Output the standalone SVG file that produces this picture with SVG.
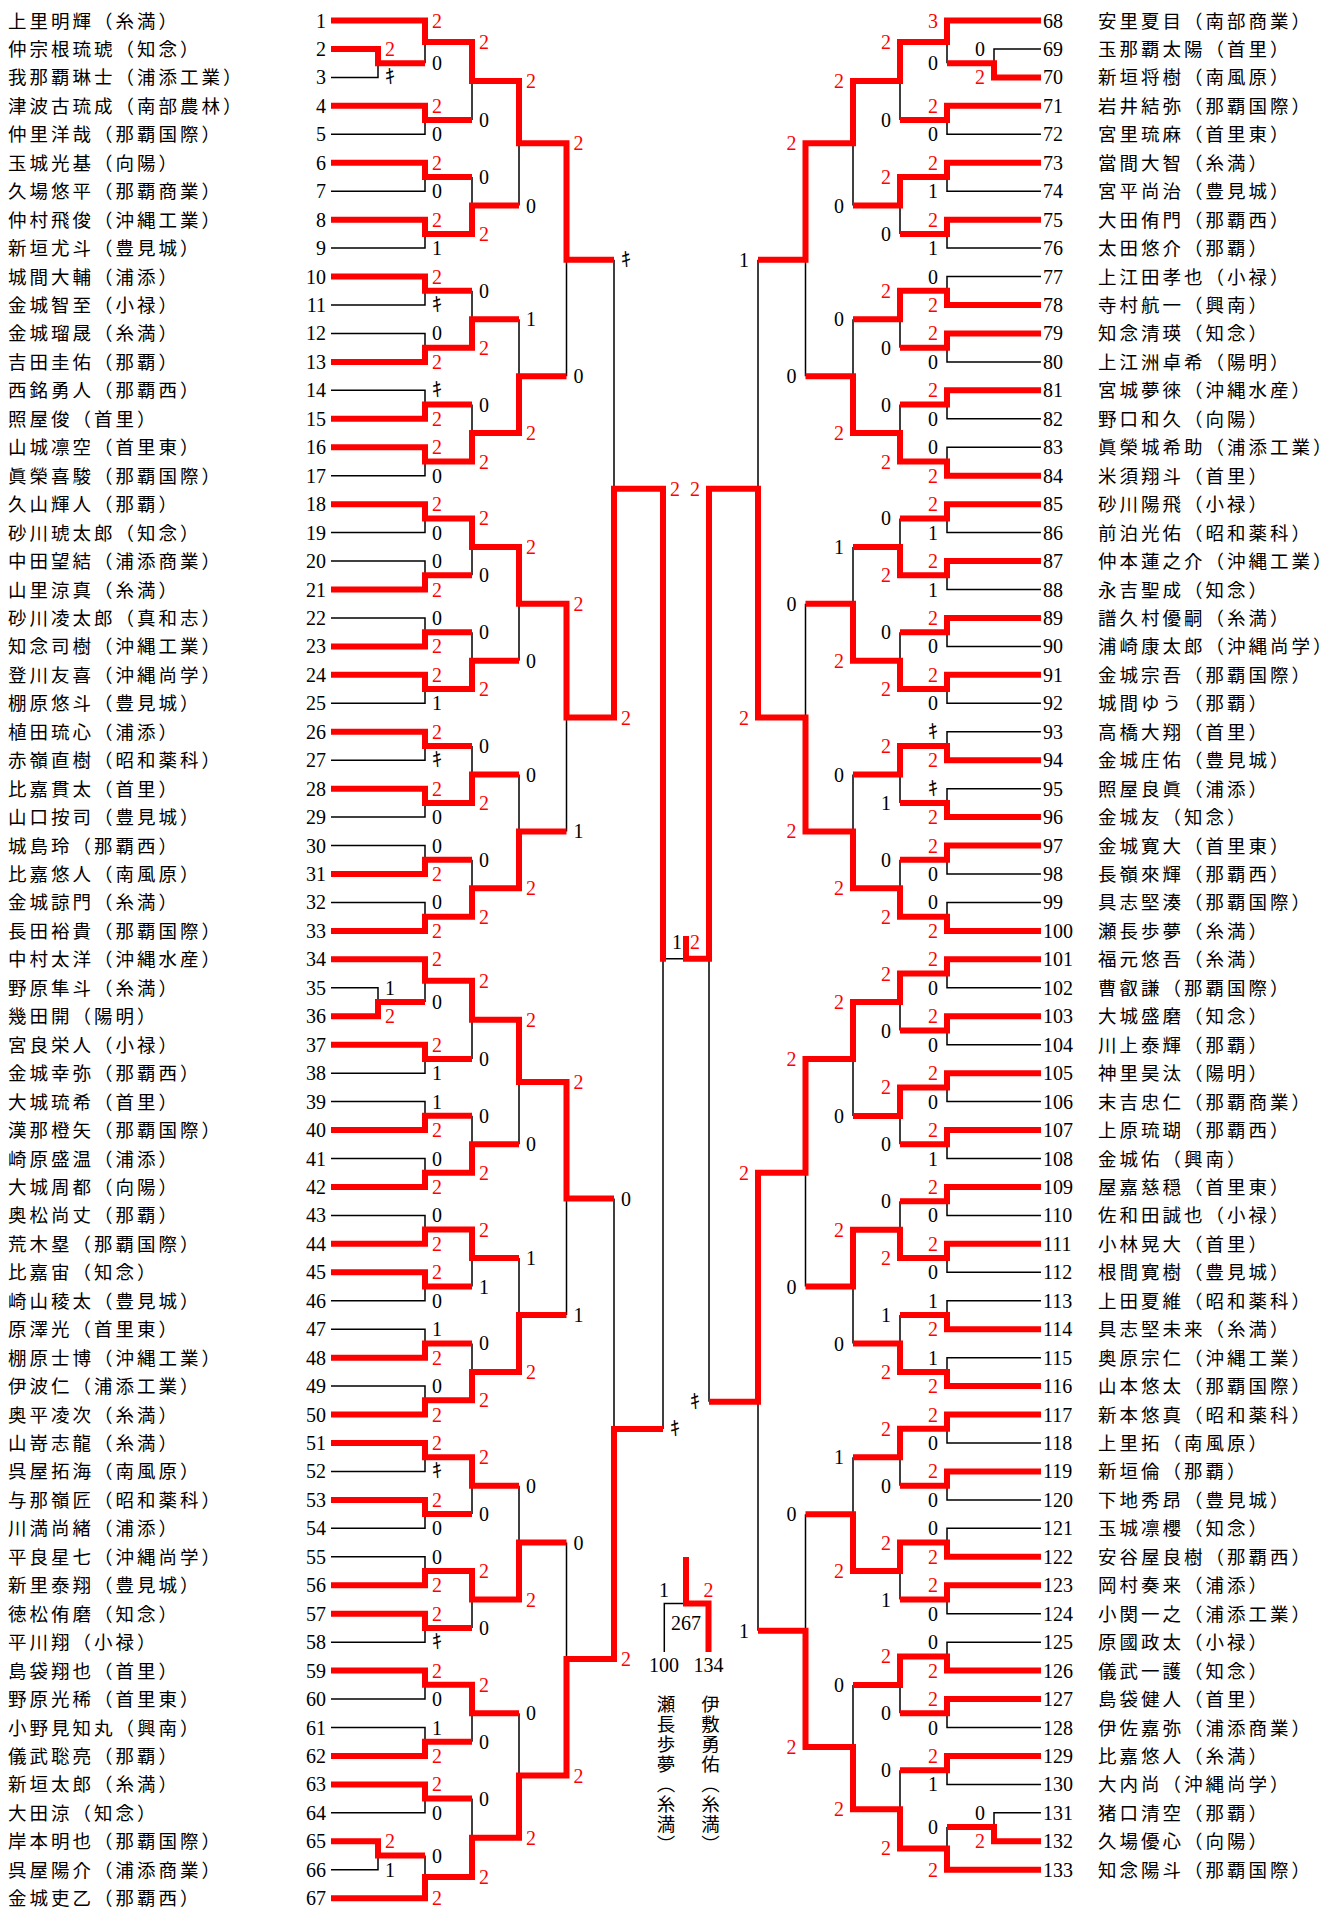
<svg xmlns="http://www.w3.org/2000/svg" width="1342" height="1907" viewBox="0 0 1342 1907">
<style>
.k{fill:none;stroke:#000;stroke-width:1.5}
.r{fill:none;stroke:#f00;stroke-width:6}
text{font-family:"Liberation Serif","Noto Sans CJK JP",serif;font-size:20px;fill:#000}
#left-players text:first-child,#right-players text:last-child{font-size:18.5px;letter-spacing:3px}
.e{text-anchor:end}
.m{text-anchor:middle}
.w{fill:#f00}
.v{writing-mode:vertical-rl;font-size:18.5px;letter-spacing:1.5px}
</style>
<rect width="1342" height="1907" fill="#fff"/>
<g id="connectors">
<path class="k" d="M331 77.4H378V63.2M331 987.8H378V1002M331 1869.75H378V1855.5
M425 63.2V41.9M331 134.3H425V120.1M331 191.2H425V177M331 248.1H425V233.9M331 305H425V290.8M331 333.45H425V347.7M331 390.35H425V404.6M331 475.7H425V461.5M331 532.6H425V518.4M331 561.05H425V575.3M331 617.95H425V632.2M331 703.3H425V689.1M331 760.2H425V746M331 817.1H425V802.9M331 845.55H425V859.8M331 902.45H425V916.7M425 1002V980.7M331 1073.15H425V1058.9M331 1101.6H425V1115.8M331 1158.5H425V1172.7M331 1215.4H425V1229.6M331 1300.75H425V1286.5M331 1329.2H425V1343.4M331 1386.1H425V1400.3M331 1471.45H425V1457.2M331 1528.35H425V1514.1M331 1556.8H425V1571M331 1642.15H425V1627.9M331 1699.05H425V1684.8M331 1727.5H425V1741.7M331 1812.85H425V1798.6M425 1855.5V1876.9
M472 120.1V81M472 177V205.5M472 290.8V319.3M472 404.6V433.1M472 575.3V546.9M472 632.2V660.7M472 746V774.5M472 859.8V888.3M472 1058.9V1019.8M472 1115.8V1144.3M472 1286.5V1258.1M472 1343.4V1371.9M472 1514.1V1485.7M472 1627.9V1599.5M472 1741.7V1713.3M472 1798.6V1837.8
M519 205.5V143.3M519 319.3V376.2M519 660.7V603.8M519 774.5V831.4M519 1144.3V1082.1M519 1258.1V1315M519 1485.7V1542.6M519 1713.3V1775.6
M566.5 376.2V259.8M566.5 831.4V717.6M566.5 1315V1198.6M566.5 1542.6V1659.1
M614 259.8V488.7M614 1198.6V1428.9M663 1428.9V958.8H686"/>
<path class="k" d="M1041 48.95H994V63.2M1041 1812.85H994V1827.1
M947 63.2V41.9M1041 134.3H947V120.1M1041 191.2H947V177M1041 248.1H947V233.9M1041 276.55H947V290.8M1041 361.9H947V347.7M1041 418.8H947V404.6M1041 447.25H947V461.5M1041 532.6H947V518.4M1041 589.5H947V575.3M1041 646.4H947V632.2M1041 703.3H947V689.1M1041 731.75H947V746M1041 788.65H947V802.9M1041 874H947V859.8M1041 902.45H947V916.7M1041 987.8H947V973.6M1041 1044.7H947V1030.5M1041 1101.6H947V1087.4M1041 1158.5H947V1144.3M1041 1215.4H947V1201.2M1041 1272.3H947V1258.1M1041 1300.75H947V1315M1041 1357.65H947V1371.9M1041 1443H947V1428.8M1041 1499.9H947V1485.7M1041 1528.35H947V1542.6M1041 1613.7H947V1599.5M1041 1642.15H947V1656.4M1041 1727.5H947V1713.3M1041 1784.4H947V1770.2M947 1827.1V1848.4
M900 120.1V81M900 233.9V205.5M900 347.7V319.3M900 404.6V433.1M900 518.4V546.9M900 632.2V660.7M900 802.9V774.5M900 859.8V888.3M900 1030.5V1002.1M900 1144.3V1115.9M900 1201.2V1229.7M900 1315V1343.5M900 1485.7V1457.3M900 1599.5V1571.1M900 1713.3V1684.9M900 1770.2V1809.3
M853 205.5V143.3M853 319.3V376.2M853 546.9V603.8M853 774.5V831.4M853 1115.9V1059M853 1343.5V1286.6M853 1457.3V1514.2M853 1684.9V1747.1
M805.5 376.2V259.8M805.5 603.8V717.6M805.5 1286.6V1172.8M805.5 1514.2V1630.7
M758 259.8V488.7M758 1630.7V1401.8M709 1401.8V958.8
M686 1603.5H664.3V1652"/>
<path class="r" d="M331 48.95H378V63.2H425M331 1016.25H378V1002H425M331 1841.3H378V1855.5H425
M331 20.5H425V41.9H472M331 105.85H425V120.1H472M331 162.75H425V177H472M331 219.65H425V233.9H472M331 276.55H425V290.8H472M331 361.9H425V347.7H472M331 418.8H425V404.6H472M331 447.25H425V461.5H472M331 504.15H425V518.4H472M331 589.5H425V575.3H472M331 646.4H425V632.2H472M331 674.85H425V689.1H472M331 731.75H425V746H472M331 788.65H425V802.9H472M331 874H425V859.8H472M331 930.9H425V916.7H472M331 959.35H425V980.7H472M331 1044.7H425V1058.9H472M331 1130.05H425V1115.8H472M331 1186.95H425V1172.7H472M331 1243.85H425V1229.6H472M331 1272.3H425V1286.5H472M331 1357.65H425V1343.4H472M331 1414.55H425V1400.3H472M331 1443H425V1457.2H472M331 1499.9H425V1514.1H472M331 1585.25H425V1571H472M331 1613.7H425V1627.9H472M331 1670.6H425V1684.8H472M331 1755.95H425V1741.7H472M331 1784.4H425V1798.6H472M331 1898.2H425V1876.9H472
M425 41.9H472V81H519M425 233.9H472V205.5H519M425 347.7H472V319.3H519M425 461.5H472V433.1H519M425 518.4H472V546.9H519M425 689.1H472V660.7H519M425 802.9H472V774.5H519M425 916.7H472V888.3H519M425 980.7H472V1019.8H519M425 1172.7H472V1144.3H519M425 1229.6H472V1258.1H519M425 1400.3H472V1371.9H519M425 1457.2H472V1485.7H519M425 1571H472V1599.5H519M425 1684.8H472V1713.3H519M425 1876.9H472V1837.8H519
M472 81H519V143.3H566.5M472 433.1H519V376.2H566.5M472 546.9H519V603.8H566.5M472 888.3H519V831.4H566.5M472 1019.8H519V1082.1H566.5M472 1371.9H519V1315H566.5M472 1599.5H519V1542.6H566.5M472 1837.8H519V1775.6H566.5
M519 143.3H566.5V259.8H614M519 603.8H566.5V717.6H614M519 1082.1H566.5V1198.6H614M519 1775.6H566.5V1659.1H614
M566.5 717.6H614V488.7H663M566.5 1659.1H614V1428.9H663M614 488.7H663V961.8"/>
<path class="r" d="M1041 77.4H994V63.2H947M1041 1841.3H994V1827.1H947
M1041 20.5H947V41.9H900M1041 105.85H947V120.1H900M1041 162.75H947V177H900M1041 219.65H947V233.9H900M1041 305H947V290.8H900M1041 333.45H947V347.7H900M1041 390.35H947V404.6H900M1041 475.7H947V461.5H900M1041 504.15H947V518.4H900M1041 561.05H947V575.3H900M1041 617.95H947V632.2H900M1041 674.85H947V689.1H900M1041 760.2H947V746H900M1041 817.1H947V802.9H900M1041 845.55H947V859.8H900M1041 930.9H947V916.7H900M1041 959.35H947V973.6H900M1041 1016.25H947V1030.5H900M1041 1073.15H947V1087.4H900M1041 1130.05H947V1144.3H900M1041 1186.95H947V1201.2H900M1041 1243.85H947V1258.1H900M1041 1329.2H947V1315H900M1041 1386.1H947V1371.9H900M1041 1414.55H947V1428.8H900M1041 1471.45H947V1485.7H900M1041 1556.8H947V1542.6H900M1041 1585.25H947V1599.5H900M1041 1670.6H947V1656.4H900M1041 1699.05H947V1713.3H900M1041 1755.95H947V1770.2H900M1041 1869.75H947V1848.4H900
M947 41.9H900V81H853M947 177H900V205.5H853M947 290.8H900V319.3H853M947 461.5H900V433.1H853M947 575.3H900V546.9H853M947 689.1H900V660.7H853M947 746H900V774.5H853M947 916.7H900V888.3H853M947 973.6H900V1002.1H853M947 1087.4H900V1115.9H853M947 1258.1H900V1229.7H853M947 1371.9H900V1343.5H853M947 1428.8H900V1457.3H853M947 1542.6H900V1571.1H853M947 1656.4H900V1684.9H853M947 1848.4H900V1809.3H853
M900 81H853V143.3H805.5M900 433.1H853V376.2H805.5M900 660.7H853V603.8H805.5M900 888.3H853V831.4H805.5M900 1002.1H853V1059H805.5M900 1229.7H853V1286.6H805.5M900 1571.1H853V1514.2H805.5M900 1809.3H853V1747.1H805.5
M853 143.3H805.5V259.8H758M853 831.4H805.5V717.6H758M853 1059H805.5V1172.8H758M853 1747.1H805.5V1630.7H758
M805.5 717.6H758V488.7H709M805.5 1172.8H758V1401.8H709M758 488.7H709V958.8H686V936
M686 1557V1603.5H708.5V1652"/>
</g>
<g id="scores">
<text x="385" y="55.95" class="w">2</text><text x="385" y="84.4">ｷ</text><text x="385" y="994.8">1</text><text x="385" y="1023.25" class="w">2</text><text x="385" y="1848.3" class="w">2</text><text x="385" y="1876.75">1</text>
<text x="432" y="27.5" class="w">2</text><text x="432" y="70.2">0</text>
<text x="432" y="112.85" class="w">2</text><text x="432" y="141.3">0</text>
<text x="432" y="169.75" class="w">2</text><text x="432" y="198.2">0</text>
<text x="432" y="226.65" class="w">2</text><text x="432" y="255.1">1</text>
<text x="432" y="283.55" class="w">2</text><text x="432" y="312">ｷ</text>
<text x="432" y="340.45">0</text><text x="432" y="368.9" class="w">2</text>
<text x="432" y="397.35">ｷ</text><text x="432" y="425.8" class="w">2</text>
<text x="432" y="454.25" class="w">2</text><text x="432" y="482.7">0</text>
<text x="432" y="511.15" class="w">2</text><text x="432" y="539.6">0</text>
<text x="432" y="568.05">0</text><text x="432" y="596.5" class="w">2</text>
<text x="432" y="624.95">0</text><text x="432" y="653.4" class="w">2</text>
<text x="432" y="681.85" class="w">2</text><text x="432" y="710.3">1</text>
<text x="432" y="738.75" class="w">2</text><text x="432" y="767.2">ｷ</text>
<text x="432" y="795.65" class="w">2</text><text x="432" y="824.1">0</text>
<text x="432" y="852.55">0</text><text x="432" y="881" class="w">2</text>
<text x="432" y="909.45">0</text><text x="432" y="937.9" class="w">2</text>
<text x="432" y="966.35" class="w">2</text><text x="432" y="1009">0</text>
<text x="432" y="1051.7" class="w">2</text><text x="432" y="1080.15">1</text>
<text x="432" y="1108.6">1</text><text x="432" y="1137.05" class="w">2</text>
<text x="432" y="1165.5">0</text><text x="432" y="1193.95" class="w">2</text>
<text x="432" y="1222.4">0</text><text x="432" y="1250.85" class="w">2</text>
<text x="432" y="1279.3" class="w">2</text><text x="432" y="1307.75">0</text>
<text x="432" y="1336.2">1</text><text x="432" y="1364.65" class="w">2</text>
<text x="432" y="1393.1">0</text><text x="432" y="1421.55" class="w">2</text>
<text x="432" y="1450" class="w">2</text><text x="432" y="1478.45">ｷ</text>
<text x="432" y="1506.9" class="w">2</text><text x="432" y="1535.35">0</text>
<text x="432" y="1563.8">0</text><text x="432" y="1592.25" class="w">2</text>
<text x="432" y="1620.7" class="w">2</text><text x="432" y="1649.15">ｷ</text>
<text x="432" y="1677.6" class="w">2</text><text x="432" y="1706.05">0</text>
<text x="432" y="1734.5">1</text><text x="432" y="1762.95" class="w">2</text>
<text x="432" y="1791.4" class="w">2</text><text x="432" y="1819.85">0</text>
<text x="432" y="1862.5">0</text><text x="432" y="1905.2" class="w">2</text>
<text x="479" y="48.9" class="w">2</text><text x="479" y="127.1">0</text>
<text x="479" y="184">0</text><text x="479" y="240.9" class="w">2</text>
<text x="479" y="297.8">0</text><text x="479" y="354.7" class="w">2</text>
<text x="479" y="411.6">0</text><text x="479" y="468.5" class="w">2</text>
<text x="479" y="525.4" class="w">2</text><text x="479" y="582.3">0</text>
<text x="479" y="639.2">0</text><text x="479" y="696.1" class="w">2</text>
<text x="479" y="753">0</text><text x="479" y="809.9" class="w">2</text>
<text x="479" y="866.8">0</text><text x="479" y="923.7" class="w">2</text>
<text x="479" y="987.7" class="w">2</text><text x="479" y="1065.9">0</text>
<text x="479" y="1122.8">0</text><text x="479" y="1179.7" class="w">2</text>
<text x="479" y="1236.6" class="w">2</text><text x="479" y="1293.5">1</text>
<text x="479" y="1350.4">0</text><text x="479" y="1407.3" class="w">2</text>
<text x="479" y="1464.2" class="w">2</text><text x="479" y="1521.1">0</text>
<text x="479" y="1578" class="w">2</text><text x="479" y="1634.9">0</text>
<text x="479" y="1691.8" class="w">2</text><text x="479" y="1748.7">0</text>
<text x="479" y="1805.6">0</text><text x="479" y="1883.9" class="w">2</text>
<text x="526" y="88" class="w">2</text><text x="526" y="212.5">0</text>
<text x="526" y="326.3">1</text><text x="526" y="440.1" class="w">2</text>
<text x="526" y="553.9" class="w">2</text><text x="526" y="667.7">0</text>
<text x="526" y="781.5">0</text><text x="526" y="895.3" class="w">2</text>
<text x="526" y="1026.8" class="w">2</text><text x="526" y="1151.3">0</text>
<text x="526" y="1265.1">1</text><text x="526" y="1378.9" class="w">2</text>
<text x="526" y="1492.7">0</text><text x="526" y="1606.5" class="w">2</text>
<text x="526" y="1720.3">0</text><text x="526" y="1844.8" class="w">2</text>
<text x="573.5" y="150.3" class="w">2</text><text x="573.5" y="383.2">0</text>
<text x="573.5" y="610.8" class="w">2</text><text x="573.5" y="838.4">1</text>
<text x="573.5" y="1089.1" class="w">2</text><text x="573.5" y="1322">1</text>
<text x="573.5" y="1549.6">0</text><text x="573.5" y="1782.6" class="w">2</text>
<text x="621" y="266.8">ｷ</text><text x="621" y="724.6" class="w">2</text>
<text x="621" y="1205.6">0</text><text x="621" y="1666.1" class="w">2</text>
<text x="670" y="495.7" class="w">2</text><text x="670" y="1435.9">ｷ</text>
<text x="677" y="949" class="m">1</text><text x="695" y="949" class="m w">2</text>
<g class="e">
<text x="985" y="55.95" class="e">0</text><text x="985" y="84.4" class="e w">2</text><text x="985" y="1819.85" class="e">0</text><text x="985" y="1848.3" class="e w">2</text>
<text x="938" y="27.5" class="e w">3</text><text x="938" y="70.2" class="e">0</text>
<text x="938" y="112.85" class="e w">2</text><text x="938" y="141.3" class="e">0</text>
<text x="938" y="169.75" class="e w">2</text><text x="938" y="198.2" class="e">1</text>
<text x="938" y="226.65" class="e w">2</text><text x="938" y="255.1" class="e">1</text>
<text x="938" y="283.55" class="e">0</text><text x="938" y="312" class="e w">2</text>
<text x="938" y="340.45" class="e w">2</text><text x="938" y="368.9" class="e">0</text>
<text x="938" y="397.35" class="e w">2</text><text x="938" y="425.8" class="e">0</text>
<text x="938" y="454.25" class="e">0</text><text x="938" y="482.7" class="e w">2</text>
<text x="938" y="511.15" class="e w">2</text><text x="938" y="539.6" class="e">1</text>
<text x="938" y="568.05" class="e w">2</text><text x="938" y="596.5" class="e">1</text>
<text x="938" y="624.95" class="e w">2</text><text x="938" y="653.4" class="e">0</text>
<text x="938" y="681.85" class="e w">2</text><text x="938" y="710.3" class="e">0</text>
<text x="938" y="738.75" class="e">ｷ</text><text x="938" y="767.2" class="e w">2</text>
<text x="938" y="795.65" class="e">ｷ</text><text x="938" y="824.1" class="e w">2</text>
<text x="938" y="852.55" class="e w">2</text><text x="938" y="881" class="e">0</text>
<text x="938" y="909.45" class="e">0</text><text x="938" y="937.9" class="e w">2</text>
<text x="938" y="966.35" class="e w">2</text><text x="938" y="994.8" class="e">0</text>
<text x="938" y="1023.25" class="e w">2</text><text x="938" y="1051.7" class="e">0</text>
<text x="938" y="1080.15" class="e w">2</text><text x="938" y="1108.6" class="e">0</text>
<text x="938" y="1137.05" class="e w">2</text><text x="938" y="1165.5" class="e">1</text>
<text x="938" y="1193.95" class="e w">2</text><text x="938" y="1222.4" class="e">0</text>
<text x="938" y="1250.85" class="e w">2</text><text x="938" y="1279.3" class="e">0</text>
<text x="938" y="1307.75" class="e">1</text><text x="938" y="1336.2" class="e w">2</text>
<text x="938" y="1364.65" class="e">1</text><text x="938" y="1393.1" class="e w">2</text>
<text x="938" y="1421.55" class="e w">2</text><text x="938" y="1450" class="e">0</text>
<text x="938" y="1478.45" class="e w">2</text><text x="938" y="1506.9" class="e">0</text>
<text x="938" y="1535.35" class="e">0</text><text x="938" y="1563.8" class="e w">2</text>
<text x="938" y="1592.25" class="e w">2</text><text x="938" y="1620.7" class="e">0</text>
<text x="938" y="1649.15" class="e">0</text><text x="938" y="1677.6" class="e w">2</text>
<text x="938" y="1706.05" class="e w">2</text><text x="938" y="1734.5" class="e">0</text>
<text x="938" y="1762.95" class="e w">2</text><text x="938" y="1791.4" class="e">1</text>
<text x="938" y="1834.1" class="e">0</text><text x="938" y="1876.75" class="e w">2</text>
<text x="891" y="48.9" class="e w">2</text><text x="891" y="127.1" class="e">0</text>
<text x="891" y="184" class="e w">2</text><text x="891" y="240.9" class="e">0</text>
<text x="891" y="297.8" class="e w">2</text><text x="891" y="354.7" class="e">0</text>
<text x="891" y="411.6" class="e">0</text><text x="891" y="468.5" class="e w">2</text>
<text x="891" y="525.4" class="e">0</text><text x="891" y="582.3" class="e w">2</text>
<text x="891" y="639.2" class="e">0</text><text x="891" y="696.1" class="e w">2</text>
<text x="891" y="753" class="e w">2</text><text x="891" y="809.9" class="e">1</text>
<text x="891" y="866.8" class="e">0</text><text x="891" y="923.7" class="e w">2</text>
<text x="891" y="980.6" class="e w">2</text><text x="891" y="1037.5" class="e">0</text>
<text x="891" y="1094.4" class="e w">2</text><text x="891" y="1151.3" class="e">0</text>
<text x="891" y="1208.2" class="e">0</text><text x="891" y="1265.1" class="e w">2</text>
<text x="891" y="1322" class="e">1</text><text x="891" y="1378.9" class="e w">2</text>
<text x="891" y="1435.8" class="e w">2</text><text x="891" y="1492.7" class="e">0</text>
<text x="891" y="1549.6" class="e w">2</text><text x="891" y="1606.5" class="e">1</text>
<text x="891" y="1663.4" class="e w">2</text><text x="891" y="1720.3" class="e">0</text>
<text x="891" y="1777.2" class="e">0</text><text x="891" y="1855.4" class="e w">2</text>
<text x="844" y="88" class="e w">2</text><text x="844" y="212.5" class="e">0</text>
<text x="844" y="326.3" class="e">0</text><text x="844" y="440.1" class="e w">2</text>
<text x="844" y="553.9" class="e">1</text><text x="844" y="667.7" class="e w">2</text>
<text x="844" y="781.5" class="e">0</text><text x="844" y="895.3" class="e w">2</text>
<text x="844" y="1009.1" class="e w">2</text><text x="844" y="1122.9" class="e">0</text>
<text x="844" y="1236.7" class="e w">2</text><text x="844" y="1350.5" class="e">0</text>
<text x="844" y="1464.3" class="e">1</text><text x="844" y="1578.1" class="e w">2</text>
<text x="844" y="1691.9" class="e">0</text><text x="844" y="1816.3" class="e w">2</text>
<text x="796.5" y="150.3" class="e w">2</text><text x="796.5" y="383.2" class="e">0</text>
<text x="796.5" y="610.8" class="e">0</text><text x="796.5" y="838.4" class="e w">2</text>
<text x="796.5" y="1066" class="e w">2</text><text x="796.5" y="1293.6" class="e">0</text>
<text x="796.5" y="1521.2" class="e">0</text><text x="796.5" y="1754.1" class="e w">2</text>
<text x="749" y="266.8" class="e">1</text><text x="749" y="724.6" class="e w">2</text>
<text x="749" y="1179.8" class="e w">2</text><text x="749" y="1637.7" class="e">1</text>
<text x="700" y="495.7" class="e w">2</text><text x="700" y="1408.8" class="e">ｷ</text>
</g>
</g>
<g id="playoff">
<text x="664" y="1597" class="m">1</text><text x="708.5" y="1597" class="m w">2</text>
<text x="686" y="1630" class="m">267</text>
<text x="664" y="1672" class="m">100</text><text x="708.5" y="1672" class="m">134</text>
<text x="664" y="1695" class="v">瀬長歩夢（糸満）</text>
<text x="708.5" y="1695" class="v">伊敷勇佑（糸満）</text>
</g>
<g id="left-players">
<g id="p1"><text x="8" y="27.5">上里明輝（糸満）</text><text x="326" y="27.5" class="e">1</text></g>
<g id="p2"><text x="8" y="55.95">仲宗根琉琥（知念）</text><text x="326" y="55.95" class="e">2</text></g>
<g id="p3"><text x="8" y="84.4">我那覇琳士（浦添工業）</text><text x="326" y="84.4" class="e">3</text></g>
<g id="p4"><text x="8" y="112.85">津波古琉成（南部農林）</text><text x="326" y="112.85" class="e">4</text></g>
<g id="p5"><text x="8" y="141.3">仲里洋哉（那覇国際）</text><text x="326" y="141.3" class="e">5</text></g>
<g id="p6"><text x="8" y="169.75">玉城光基（向陽）</text><text x="326" y="169.75" class="e">6</text></g>
<g id="p7"><text x="8" y="198.2">久場悠平（那覇商業）</text><text x="326" y="198.2" class="e">7</text></g>
<g id="p8"><text x="8" y="226.65">仲村飛俊（沖縄工業）</text><text x="326" y="226.65" class="e">8</text></g>
<g id="p9"><text x="8" y="255.1">新垣尤斗（豊見城）</text><text x="326" y="255.1" class="e">9</text></g>
<g id="p10"><text x="8" y="283.55">城間大輔（浦添）</text><text x="326" y="283.55" class="e">10</text></g>
<g id="p11"><text x="8" y="312">金城智至（小禄）</text><text x="326" y="312" class="e">11</text></g>
<g id="p12"><text x="8" y="340.45">金城瑠晟（糸満）</text><text x="326" y="340.45" class="e">12</text></g>
<g id="p13"><text x="8" y="368.9">吉田圭佑（那覇）</text><text x="326" y="368.9" class="e">13</text></g>
<g id="p14"><text x="8" y="397.35">西銘勇人（那覇西）</text><text x="326" y="397.35" class="e">14</text></g>
<g id="p15"><text x="8" y="425.8">照屋俊（首里）</text><text x="326" y="425.8" class="e">15</text></g>
<g id="p16"><text x="8" y="454.25">山城凛空（首里東）</text><text x="326" y="454.25" class="e">16</text></g>
<g id="p17"><text x="8" y="482.7">眞榮喜駿（那覇国際）</text><text x="326" y="482.7" class="e">17</text></g>
<g id="p18"><text x="8" y="511.15">久山輝人（那覇）</text><text x="326" y="511.15" class="e">18</text></g>
<g id="p19"><text x="8" y="539.6">砂川琥太郎（知念）</text><text x="326" y="539.6" class="e">19</text></g>
<g id="p20"><text x="8" y="568.05">中田望結（浦添商業）</text><text x="326" y="568.05" class="e">20</text></g>
<g id="p21"><text x="8" y="596.5">山里涼真（糸満）</text><text x="326" y="596.5" class="e">21</text></g>
<g id="p22"><text x="8" y="624.95">砂川凌太郎（真和志）</text><text x="326" y="624.95" class="e">22</text></g>
<g id="p23"><text x="8" y="653.4">知念司樹（沖縄工業）</text><text x="326" y="653.4" class="e">23</text></g>
<g id="p24"><text x="8" y="681.85">登川友喜（沖縄尚学）</text><text x="326" y="681.85" class="e">24</text></g>
<g id="p25"><text x="8" y="710.3">棚原悠斗（豊見城）</text><text x="326" y="710.3" class="e">25</text></g>
<g id="p26"><text x="8" y="738.75">植田琉心（浦添）</text><text x="326" y="738.75" class="e">26</text></g>
<g id="p27"><text x="8" y="767.2">赤嶺直樹（昭和薬科）</text><text x="326" y="767.2" class="e">27</text></g>
<g id="p28"><text x="8" y="795.65">比嘉貫太（首里）</text><text x="326" y="795.65" class="e">28</text></g>
<g id="p29"><text x="8" y="824.1">山口按司（豊見城）</text><text x="326" y="824.1" class="e">29</text></g>
<g id="p30"><text x="8" y="852.55">城島玲（那覇西）</text><text x="326" y="852.55" class="e">30</text></g>
<g id="p31"><text x="8" y="881">比嘉悠人（南風原）</text><text x="326" y="881" class="e">31</text></g>
<g id="p32"><text x="8" y="909.45">金城諒門（糸満）</text><text x="326" y="909.45" class="e">32</text></g>
<g id="p33"><text x="8" y="937.9">長田裕貴（那覇国際）</text><text x="326" y="937.9" class="e">33</text></g>
<g id="p34"><text x="8" y="966.35">中村太洋（沖縄水産）</text><text x="326" y="966.35" class="e">34</text></g>
<g id="p35"><text x="8" y="994.8">野原隼斗（糸満）</text><text x="326" y="994.8" class="e">35</text></g>
<g id="p36"><text x="8" y="1023.25">幾田開（陽明）</text><text x="326" y="1023.25" class="e">36</text></g>
<g id="p37"><text x="8" y="1051.7">宮良栄人（小禄）</text><text x="326" y="1051.7" class="e">37</text></g>
<g id="p38"><text x="8" y="1080.15">金城幸弥（那覇西）</text><text x="326" y="1080.15" class="e">38</text></g>
<g id="p39"><text x="8" y="1108.6">大城琉希（首里）</text><text x="326" y="1108.6" class="e">39</text></g>
<g id="p40"><text x="8" y="1137.05">漢那橙矢（那覇国際）</text><text x="326" y="1137.05" class="e">40</text></g>
<g id="p41"><text x="8" y="1165.5">崎原盛温（浦添）</text><text x="326" y="1165.5" class="e">41</text></g>
<g id="p42"><text x="8" y="1193.95">大城周都（向陽）</text><text x="326" y="1193.95" class="e">42</text></g>
<g id="p43"><text x="8" y="1222.4">奥松尚丈（那覇）</text><text x="326" y="1222.4" class="e">43</text></g>
<g id="p44"><text x="8" y="1250.85">荒木塁（那覇国際）</text><text x="326" y="1250.85" class="e">44</text></g>
<g id="p45"><text x="8" y="1279.3">比嘉宙（知念）</text><text x="326" y="1279.3" class="e">45</text></g>
<g id="p46"><text x="8" y="1307.75">崎山稜太（豊見城）</text><text x="326" y="1307.75" class="e">46</text></g>
<g id="p47"><text x="8" y="1336.2">原澤光（首里東）</text><text x="326" y="1336.2" class="e">47</text></g>
<g id="p48"><text x="8" y="1364.65">棚原士博（沖縄工業）</text><text x="326" y="1364.65" class="e">48</text></g>
<g id="p49"><text x="8" y="1393.1">伊波仁（浦添工業）</text><text x="326" y="1393.1" class="e">49</text></g>
<g id="p50"><text x="8" y="1421.55">奥平凌次（糸満）</text><text x="326" y="1421.55" class="e">50</text></g>
<g id="p51"><text x="8" y="1450">山嵜志龍（糸満）</text><text x="326" y="1450" class="e">51</text></g>
<g id="p52"><text x="8" y="1478.45">呉屋拓海（南風原）</text><text x="326" y="1478.45" class="e">52</text></g>
<g id="p53"><text x="8" y="1506.9">与那嶺匠（昭和薬科）</text><text x="326" y="1506.9" class="e">53</text></g>
<g id="p54"><text x="8" y="1535.35">川満尚緒（浦添）</text><text x="326" y="1535.35" class="e">54</text></g>
<g id="p55"><text x="8" y="1563.8">平良星七（沖縄尚学）</text><text x="326" y="1563.8" class="e">55</text></g>
<g id="p56"><text x="8" y="1592.25">新里泰翔（豊見城）</text><text x="326" y="1592.25" class="e">56</text></g>
<g id="p57"><text x="8" y="1620.7">徳松侑磨（知念）</text><text x="326" y="1620.7" class="e">57</text></g>
<g id="p58"><text x="8" y="1649.15">平川翔（小禄）</text><text x="326" y="1649.15" class="e">58</text></g>
<g id="p59"><text x="8" y="1677.6">島袋翔也（首里）</text><text x="326" y="1677.6" class="e">59</text></g>
<g id="p60"><text x="8" y="1706.05">野原光稀（首里東）</text><text x="326" y="1706.05" class="e">60</text></g>
<g id="p61"><text x="8" y="1734.5">小野見知丸（興南）</text><text x="326" y="1734.5" class="e">61</text></g>
<g id="p62"><text x="8" y="1762.95">儀武聡亮（那覇）</text><text x="326" y="1762.95" class="e">62</text></g>
<g id="p63"><text x="8" y="1791.4">新垣太郎（糸満）</text><text x="326" y="1791.4" class="e">63</text></g>
<g id="p64"><text x="8" y="1819.85">大田涼（知念）</text><text x="326" y="1819.85" class="e">64</text></g>
<g id="p65"><text x="8" y="1848.3">岸本明也（那覇国際）</text><text x="326" y="1848.3" class="e">65</text></g>
<g id="p66"><text x="8" y="1876.75">呉屋陽介（浦添商業）</text><text x="326" y="1876.75" class="e">66</text></g>
<g id="p67"><text x="8" y="1905.2">金城吏乙（那覇西）</text><text x="326" y="1905.2" class="e">67</text></g>
</g>
<g id="right-players">
<g id="p68"><text x="1043" y="27.5">68</text><text x="1098" y="27.5">安里夏目（南部商業）</text></g>
<g id="p69"><text x="1043" y="55.95">69</text><text x="1098" y="55.95">玉那覇太陽（首里）</text></g>
<g id="p70"><text x="1043" y="84.4">70</text><text x="1098" y="84.4">新垣将樹（南風原）</text></g>
<g id="p71"><text x="1043" y="112.85">71</text><text x="1098" y="112.85">岩井結弥（那覇国際）</text></g>
<g id="p72"><text x="1043" y="141.3">72</text><text x="1098" y="141.3">宮里琉麻（首里東）</text></g>
<g id="p73"><text x="1043" y="169.75">73</text><text x="1098" y="169.75">當間大智（糸満）</text></g>
<g id="p74"><text x="1043" y="198.2">74</text><text x="1098" y="198.2">宮平尚治（豊見城）</text></g>
<g id="p75"><text x="1043" y="226.65">75</text><text x="1098" y="226.65">大田侑門（那覇西）</text></g>
<g id="p76"><text x="1043" y="255.1">76</text><text x="1098" y="255.1">太田悠介（那覇）</text></g>
<g id="p77"><text x="1043" y="283.55">77</text><text x="1098" y="283.55">上江田孝也（小禄）</text></g>
<g id="p78"><text x="1043" y="312">78</text><text x="1098" y="312">寺村航一（興南）</text></g>
<g id="p79"><text x="1043" y="340.45">79</text><text x="1098" y="340.45">知念清瑛（知念）</text></g>
<g id="p80"><text x="1043" y="368.9">80</text><text x="1098" y="368.9">上江洲卓希（陽明）</text></g>
<g id="p81"><text x="1043" y="397.35">81</text><text x="1098" y="397.35">宮城夢徠（沖縄水産）</text></g>
<g id="p82"><text x="1043" y="425.8">82</text><text x="1098" y="425.8">野口和久（向陽）</text></g>
<g id="p83"><text x="1043" y="454.25">83</text><text x="1098" y="454.25">眞榮城希助（浦添工業）</text></g>
<g id="p84"><text x="1043" y="482.7">84</text><text x="1098" y="482.7">米須翔斗（首里）</text></g>
<g id="p85"><text x="1043" y="511.15">85</text><text x="1098" y="511.15">砂川陽飛（小禄）</text></g>
<g id="p86"><text x="1043" y="539.6">86</text><text x="1098" y="539.6">前泊光佑（昭和薬科）</text></g>
<g id="p87"><text x="1043" y="568.05">87</text><text x="1098" y="568.05">仲本蓮之介（沖縄工業）</text></g>
<g id="p88"><text x="1043" y="596.5">88</text><text x="1098" y="596.5">永吉聖成（知念）</text></g>
<g id="p89"><text x="1043" y="624.95">89</text><text x="1098" y="624.95">譜久村優嗣（糸満）</text></g>
<g id="p90"><text x="1043" y="653.4">90</text><text x="1098" y="653.4">浦崎康太郎（沖縄尚学）</text></g>
<g id="p91"><text x="1043" y="681.85">91</text><text x="1098" y="681.85">金城宗吾（那覇国際）</text></g>
<g id="p92"><text x="1043" y="710.3">92</text><text x="1098" y="710.3">城間ゆう（那覇）</text></g>
<g id="p93"><text x="1043" y="738.75">93</text><text x="1098" y="738.75">高橋大翔（首里）</text></g>
<g id="p94"><text x="1043" y="767.2">94</text><text x="1098" y="767.2">金城庄佑（豊見城）</text></g>
<g id="p95"><text x="1043" y="795.65">95</text><text x="1098" y="795.65">照屋良眞（浦添）</text></g>
<g id="p96"><text x="1043" y="824.1">96</text><text x="1098" y="824.1">金城友（知念）</text></g>
<g id="p97"><text x="1043" y="852.55">97</text><text x="1098" y="852.55">金城寛大（首里東）</text></g>
<g id="p98"><text x="1043" y="881">98</text><text x="1098" y="881">長嶺來輝（那覇西）</text></g>
<g id="p99"><text x="1043" y="909.45">99</text><text x="1098" y="909.45">具志堅湊（那覇国際）</text></g>
<g id="p100"><text x="1043" y="937.9">100</text><text x="1098" y="937.9">瀬長歩夢（糸満）</text></g>
<g id="p101"><text x="1043" y="966.35">101</text><text x="1098" y="966.35">福元悠吾（糸満）</text></g>
<g id="p102"><text x="1043" y="994.8">102</text><text x="1098" y="994.8">曹叡謙（那覇国際）</text></g>
<g id="p103"><text x="1043" y="1023.25">103</text><text x="1098" y="1023.25">大城盛磨（知念）</text></g>
<g id="p104"><text x="1043" y="1051.7">104</text><text x="1098" y="1051.7">川上泰輝（那覇）</text></g>
<g id="p105"><text x="1043" y="1080.15">105</text><text x="1098" y="1080.15">神里昊汰（陽明）</text></g>
<g id="p106"><text x="1043" y="1108.6">106</text><text x="1098" y="1108.6">末吉忠仁（那覇商業）</text></g>
<g id="p107"><text x="1043" y="1137.05">107</text><text x="1098" y="1137.05">上原琉瑚（那覇西）</text></g>
<g id="p108"><text x="1043" y="1165.5">108</text><text x="1098" y="1165.5">金城佑（興南）</text></g>
<g id="p109"><text x="1043" y="1193.95">109</text><text x="1098" y="1193.95">屋嘉慈穏（首里東）</text></g>
<g id="p110"><text x="1043" y="1222.4">110</text><text x="1098" y="1222.4">佐和田誠也（小禄）</text></g>
<g id="p111"><text x="1043" y="1250.85">111</text><text x="1098" y="1250.85">小林晃大（首里）</text></g>
<g id="p112"><text x="1043" y="1279.3">112</text><text x="1098" y="1279.3">根間寛樹（豊見城）</text></g>
<g id="p113"><text x="1043" y="1307.75">113</text><text x="1098" y="1307.75">上田夏維（昭和薬科）</text></g>
<g id="p114"><text x="1043" y="1336.2">114</text><text x="1098" y="1336.2">具志堅未来（糸満）</text></g>
<g id="p115"><text x="1043" y="1364.65">115</text><text x="1098" y="1364.65">奥原宗仁（沖縄工業）</text></g>
<g id="p116"><text x="1043" y="1393.1">116</text><text x="1098" y="1393.1">山本悠太（那覇国際）</text></g>
<g id="p117"><text x="1043" y="1421.55">117</text><text x="1098" y="1421.55">新本悠真（昭和薬科）</text></g>
<g id="p118"><text x="1043" y="1450">118</text><text x="1098" y="1450">上里拓（南風原）</text></g>
<g id="p119"><text x="1043" y="1478.45">119</text><text x="1098" y="1478.45">新垣倫（那覇）</text></g>
<g id="p120"><text x="1043" y="1506.9">120</text><text x="1098" y="1506.9">下地秀昂（豊見城）</text></g>
<g id="p121"><text x="1043" y="1535.35">121</text><text x="1098" y="1535.35">玉城凛櫻（知念）</text></g>
<g id="p122"><text x="1043" y="1563.8">122</text><text x="1098" y="1563.8">安谷屋良樹（那覇西）</text></g>
<g id="p123"><text x="1043" y="1592.25">123</text><text x="1098" y="1592.25">岡村奏来（浦添）</text></g>
<g id="p124"><text x="1043" y="1620.7">124</text><text x="1098" y="1620.7">小関一之（浦添工業）</text></g>
<g id="p125"><text x="1043" y="1649.15">125</text><text x="1098" y="1649.15">原國政太（小禄）</text></g>
<g id="p126"><text x="1043" y="1677.6">126</text><text x="1098" y="1677.6">儀武一護（知念）</text></g>
<g id="p127"><text x="1043" y="1706.05">127</text><text x="1098" y="1706.05">島袋健人（首里）</text></g>
<g id="p128"><text x="1043" y="1734.5">128</text><text x="1098" y="1734.5">伊佐嘉弥（浦添商業）</text></g>
<g id="p129"><text x="1043" y="1762.95">129</text><text x="1098" y="1762.95">比嘉悠人（糸満）</text></g>
<g id="p130"><text x="1043" y="1791.4">130</text><text x="1098" y="1791.4">大内尚（沖縄尚学）</text></g>
<g id="p131"><text x="1043" y="1819.85">131</text><text x="1098" y="1819.85">猪口清空（那覇）</text></g>
<g id="p132"><text x="1043" y="1848.3">132</text><text x="1098" y="1848.3">久場優心（向陽）</text></g>
<g id="p133"><text x="1043" y="1876.75">133</text><text x="1098" y="1876.75">知念陽斗（那覇国際）</text></g>
</g>
</svg>
